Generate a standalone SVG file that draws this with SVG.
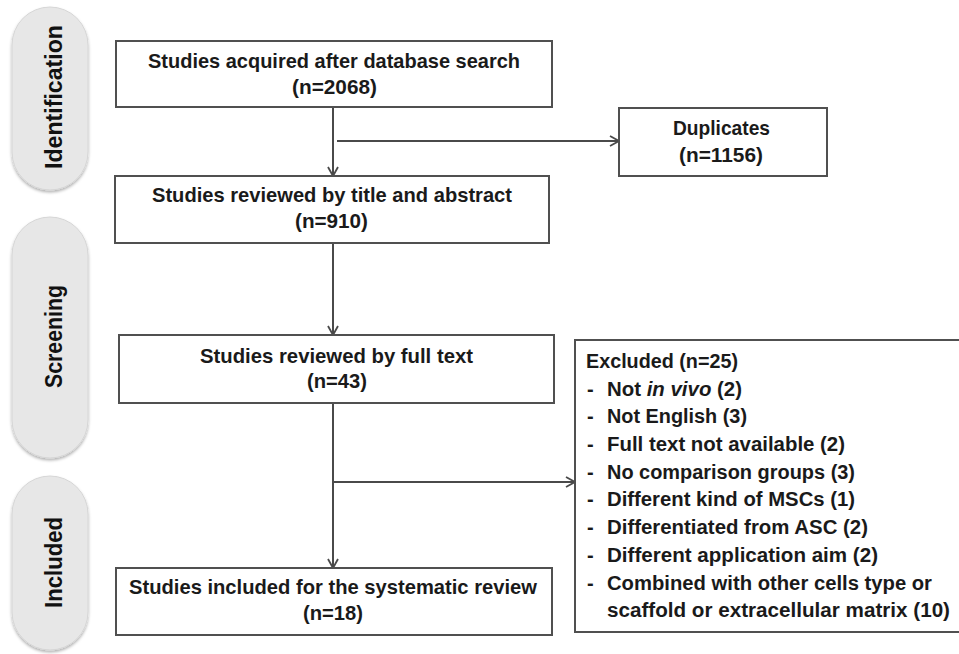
<svg xmlns="http://www.w3.org/2000/svg" width="959" height="654" viewBox="0 0 959 654">
<style>
.bg{fill:#ffffff}
.pill{fill:#e7e7e7;stroke:#d6d6d6;stroke-width:1;filter:url(#sh)}
.box{fill:#ffffff;stroke:#505050;stroke-width:2}
.t{font-family:"Liberation Sans",Arial,sans-serif;font-weight:bold;font-size:21px;fill:#1a1a1a}
.ts{font-family:"Liberation Sans",Arial,sans-serif;font-weight:bold;font-size:20px;fill:#1a1a1a}
.tp{font-family:"Liberation Sans",Arial,sans-serif;font-weight:bold;font-size:23px;fill:#111111}
.ln{fill:none;stroke:#4a4a4a;stroke-width:2}
.ar{marker-end:url(#ah)}
</style>
<defs>
<marker id="ah" viewBox="0 0 12 12" refX="11" refY="6" markerWidth="12" markerHeight="12" markerUnits="userSpaceOnUse" orient="auto">
<path d="M2,1 L11,6 L2,11" fill="none" stroke="#4a4a4a" stroke-width="1.8"/>
</marker>
<filter id="sh" x="-20%" y="-10%" width="140%" height="125%">
<feDropShadow dx="0" dy="2" stdDeviation="1.5" flood-color="#000000" flood-opacity="0.3"/>
</filter>
</defs>
<rect class="bg" x="0" y="0" width="959" height="654"/>

<g id="phase-identification">
<rect class="pill" x="12" y="7" width="76" height="183" rx="38" ry="38"/>
<text class="tp" transform="translate(62,169) rotate(-90)" textLength="144" lengthAdjust="spacingAndGlyphs">Identification</text>
</g>
<g id="phase-screening">
<rect class="pill" x="12" y="217" width="76" height="241" rx="38" ry="38"/>
<text class="tp" transform="translate(62,388) rotate(-90)" textLength="103" lengthAdjust="spacingAndGlyphs">Screening</text>
</g>
<g id="phase-included">
<rect class="pill" x="12" y="476" width="76" height="174" rx="38" ry="38"/>
<text class="tp" transform="translate(62,608) rotate(-90)" textLength="91" lengthAdjust="spacingAndGlyphs">Included</text>
</g>

<g id="connectors">
<line class="ln ar" x1="333" y1="107" x2="333" y2="176"/>
<line class="ln ar" x1="337" y1="141" x2="619" y2="141"/>
<line class="ln ar" x1="333" y1="243" x2="333" y2="335"/>
<line class="ln ar" x1="333" y1="403" x2="333" y2="568"/>
<line class="ln ar" x1="333" y1="482" x2="575" y2="482"/>
</g>

<g id="node-search">
<rect class="box" x="116" y="41" width="436" height="66"/>
<text class="t" x="148" y="68" textLength="372" lengthAdjust="spacingAndGlyphs">Studies acquired after database search</text>
<text class="t" x="292" y="94" textLength="85" lengthAdjust="spacingAndGlyphs">(n=2068)</text>
</g>
<g id="node-duplicates">
<rect class="box" x="619" y="108" width="208" height="68"/>
<text class="t" x="673" y="135" textLength="97" lengthAdjust="spacingAndGlyphs">Duplicates</text>
<text class="t" x="679" y="162" textLength="84" lengthAdjust="spacingAndGlyphs">(n=1156)</text>
</g>
<g id="node-title-abstract">
<rect class="box" x="115" y="176" width="434" height="67"/>
<text class="t" x="152" y="202" textLength="360" lengthAdjust="spacingAndGlyphs">Studies reviewed by title and abstract</text>
<text class="t" x="295" y="228" textLength="73" lengthAdjust="spacingAndGlyphs">(n=910)</text>
</g>
<g id="node-full-text">
<rect class="box" x="119" y="335" width="435" height="68"/>
<text class="t" x="200" y="363" textLength="273" lengthAdjust="spacingAndGlyphs">Studies reviewed by full text</text>
<text class="t" x="307" y="388" textLength="60" lengthAdjust="spacingAndGlyphs">(n=43)</text>
</g>
<g id="node-included">
<rect class="box" x="116" y="568" width="436" height="67"/>
<text class="t" x="129" y="594" textLength="408" lengthAdjust="spacingAndGlyphs">Studies included for the systematic review</text>
<text class="t" x="303" y="620" textLength="60" lengthAdjust="spacingAndGlyphs">(n=18)</text>
</g>
<g id="node-excluded">
<rect class="box" x="575" y="340" width="400" height="292"/>
<text class="ts" x="586" y="368" textLength="152" lengthAdjust="spacingAndGlyphs">Excluded (n=25)</text>
<text class="ts" x="587" y="396">-</text>
<text class="ts" x="607" y="396" textLength="135" lengthAdjust="spacingAndGlyphs">Not <tspan font-style="italic">in vivo</tspan> (2)</text>
<text class="ts" x="587" y="423">-</text>
<text class="ts" x="607" y="423" textLength="140" lengthAdjust="spacingAndGlyphs">Not English (3)</text>
<text class="ts" x="587" y="451">-</text>
<text class="ts" x="607" y="451" textLength="238" lengthAdjust="spacingAndGlyphs">Full text not available (2)</text>
<text class="ts" x="587" y="479">-</text>
<text class="ts" x="607" y="479" textLength="248" lengthAdjust="spacingAndGlyphs">No comparison groups (3)</text>
<text class="ts" x="587" y="506">-</text>
<text class="ts" x="607" y="506" textLength="248" lengthAdjust="spacingAndGlyphs">Different kind of MSCs (1)</text>
<text class="ts" x="587" y="534">-</text>
<text class="ts" x="607" y="534" textLength="261" lengthAdjust="spacingAndGlyphs">Differentiated from ASC (2)</text>
<text class="ts" x="587" y="562">-</text>
<text class="ts" x="607" y="562" textLength="271" lengthAdjust="spacingAndGlyphs">Different application aim (2)</text>
<text class="ts" x="587" y="590">-</text>
<text class="ts" x="607" y="590" textLength="325" lengthAdjust="spacingAndGlyphs">Combined with other cells type or</text>
<text class="ts" x="607" y="617" textLength="343" lengthAdjust="spacingAndGlyphs">scaffold or extracellular matrix (10)</text>
</g>
</svg>
